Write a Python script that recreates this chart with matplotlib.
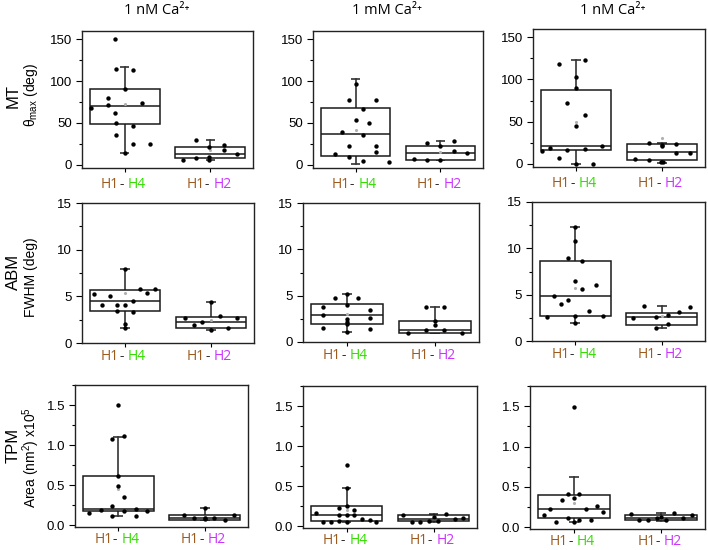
import matplotlib
matplotlib.use('Agg')
import matplotlib.pyplot as plt
from matplotlib.ticker import MultipleLocator, FixedLocator
import matplotlib.transforms as mtransforms

plt.rcParams['font.family'] = ['Liberation Sans', 'DejaVu Sans']
plt.rcParams['mathtext.fontset'] = 'custom'
plt.rcParams['mathtext.rm'] = 'Liberation Sans'
plt.rcParams['mathtext.it'] = 'Liberation Sans:italic'

# ================= column titles / row labels =======================
col_titles = ['1 nM Ca²⁺', '1 mM Ca²⁺', '1 nM Ca²⁺']
row_names = ['MT', 'ABM', 'TPM']
row_units = [r'θ$_{\mathrm{max}}$ (deg)', 'FWHM (deg)', r'Area (nm$^2$) x10$^5$']
row_ylim = [(-4, 160), (0, 15), (-0.02, 1.75)]
row_major = [50, 5, 0.5]
row_fmt = ['{:.0f}', '{:.0f}', '{:.1f}']

# ================= MT (theta max) =======================
# box stats: whislo, q1, median, q3, whishi
mt_h4_box = [[14, 49, 70, 91, 117], [1.2, 10.8, 36.7, 68, 103], [0, 15.7, 20.8, 88, 123]]
mt_h2_box = [[6, 7.4, 13, 21, 30], [5.4, 5.4, 13.5, 22.8, 27.8], [1.2, 4.7, 13.3, 23, 24.3]]
mt_h4_mean = [73, 41.7, 50]
mt_h2_mean = [17.6, 15.5, 30]

mt1_h4_x = [0.89, 0.90, 1.10, 1.0, 0.80, 0.80, 0.60, 1.20, 0.89, 0.90, 1.10, 0.90, 1.10, 1.30, 1.0]
mt1_h4_y = [151, 114, 113, 91, 80, 72, 68, 74, 62, 50, 46, 36, 25, 25, 14]
mt1_h2_x = [1.835, 1.99, 2.16, 2.16, 2.31, 1.68, 1.835, 1.99, 1.99]
mt1_h2_y = [30, 21, 23, 17, 13, 5, 8, 8.6, 6]

mt2_h4_x = [1.0, 0.92, 1.24, 1.09, 1.0, 1.16, 0.84, 1.09, 0.92, 1.24, 1.24, 0.76, 0.92, 1.09, 1.40]
mt2_h4_y = [97, 77, 77, 67, 53, 49.5, 39, 35.6, 22.4, 22.4, 14.7, 13, 9.3, 3.9, 2.7]
mt2_h2_x = [1.84, 2.0, 2.16, 2.16, 2.31, 1.69, 1.84, 2.0]
mt2_h2_y = [26.3, 22, 28, 15.8, 13.5, 6.2, 5, 5.4]

mt3_h4_x = [0.80, 1.10, 1.0, 1.0, 0.90, 1.10, 1.0, 0.70, 0.60, 0.90, 1.10, 1.305, 0.80, 1.0, 1.20]
mt3_h4_y = [118, 123, 103, 89.7, 72, 57.6, 45, 18.8, 15.3, 15.7, 17.6, 20.8, 7, 0, 0]
mt3_h2_x = [1.85, 2.0, 2.0, 2.16, 2.16, 2.32, 1.69, 1.85, 1.99, 2.01]
mt3_h2_y = [24.7, 20.4, 22.7, 23, 13, 13, 5, 4.3, 2, 2]

# ================= ABM (FWHM) =======================
abm_h4_box = [[1.64, 3.42, 4.45, 5.7, 7.94], [1.09, 1.92, 2.86, 4.06, 5.2], [1.93, 2.69, 4.9, 8.58, 12.25]]
abm_h2_box = [[1.35, 1.57, 2.24, 2.74, 4.35], [0.94, 0.94, 1.34, 2.25, 3.8], [1.38, 1.78, 2.58, 3.05, 3.82]]
abm_h4_mean = [5.34, 3.04, 5.75]
abm_h2_mean = [2.5, 1.85, 2.69]

abm1_h4_x = [0.64, 0.82, 1.175, 1.26, 1.35, 0.73, 0.91, 1.0, 1.09, 0.91, 1.09, 1.0, 1.0, 1.0]
abm1_h4_y = [5.24, 5.06, 5.74, 5.38, 5.74, 4.03, 4.03, 4.03, 4.45, 3.46, 3.35, 2.07, 1.64, 7.94]
abm1_h2_x = [1.70, 1.80, 1.90, 2.10, 2.30, 2.0, 2.20, 2.0]
abm1_h2_y = [2.7, 1.92, 2.3, 2.88, 2.7, 1.39, 1.6, 4.35]

abm2_h4_x = [0.86, 1.13, 1.0, 0.73, 1.0, 1.26, 0.73, 1.26, 1.0, 1.0, 1.0, 0.73, 1.26, 1.0]
abm2_h4_y = [4.8, 4.75, 5.2, 3.8, 3.95, 3.5, 2.86, 2.64, 2.5, 2.2, 1.92, 1.56, 1.45, 1.09]
abm2_h2_x = [1.90, 2.10, 2.0, 2.0, 1.90, 2.10, 1.69, 2.31]
abm2_h2_y = [3.8, 3.73, 2.28, 1.85, 1.27, 1.3, 0.94, 0.94]

abm3_h4_x = [1.0, 1.0, 0.92, 1.08, 1.0, 1.24, 1.08, 0.755, 0.92, 0.84, 1.16, 0.67, 1.0, 1.32, 1.0]
abm3_h4_y = [12.25, 10.8, 8.95, 8.6, 6.47, 6.07, 5.6, 4.87, 4.4, 3.96, 3.24, 2.55, 2.73, 2.69, 1.93]
abm3_h2_x = [1.79, 2.33, 2.20, 2.07, 1.67, 1.93, 2.07, 1.93]
abm3_h2_y = [3.82, 3.64, 3.09, 2.8, 2.51, 2.58, 1.82, 1.38]

# ================= TPM (Area) =======================
tpm_h4_box = [[0.114, 0.185, 0.21, 0.611, 1.108], [0.054, 0.07, 0.136, 0.26, 0.483], [0.069, 0.114, 0.232, 0.407, 0.618]]
tpm_h2_box = [[0.072, 0.072, 0.097, 0.135, 0.22], [0.05, 0.07, 0.09, 0.136, 0.157], [0.085, 0.089, 0.118, 0.15, 0.179]]
tpm_h4_mean = [0.455, 0.2, 0.3]
tpm_h2_mean = [0.11, 0.1, 0.12]

tpm1_h4_x = [1.0, 1.066, 0.93, 1.0, 1.0, 1.066, 0.93, 0.66, 0.795, 1.066, 1.20, 1.33, 0.93, 1.20]
tpm1_h4_y = [1.5, 1.11, 1.075, 0.611, 0.497, 0.35, 0.236, 0.16, 0.19, 0.185, 0.206, 0.18, 0.114, 0.118]
tpm1_h2_x = [1.76, 2.0, 1.87, 2.0, 2.11, 2.23, 2.34, 2.0]
tpm1_h2_y = [0.135, 0.22, 0.097, 0.097, 0.097, 0.065, 0.135, 0.075]

tpm2_h4_x = [1.0, 1.0, 1.0, 0.91, 1.09, 0.65, 0.91, 1.09, 1.0, 1.18, 1.27, 1.34, 0.73, 0.82, 0.91, 1.0]
tpm2_h4_y = [0.76, 0.483, 0.26, 0.235, 0.2, 0.17, 0.136, 0.136, 0.136, 0.095, 0.078, 0.054, 0.058, 0.058, 0.066, 0.058]
tpm2_h2_x = [1.65, 2.14, 2.0, 1.75, 1.85, 1.95, 2.05, 2.25, 2.34]
tpm2_h2_y = [0.136, 0.157, 0.116, 0.05, 0.058, 0.062, 0.062, 0.09, 0.11]

tpm3_h4_x = [1.0, 0.935, 1.065, 0.865, 1.0, 0.73, 1.135, 1.27, 0.665, 1.335, 0.935, 1.065, 1.20, 0.80, 1.0]
tpm3_h4_y = [1.49, 0.419, 0.41, 0.337, 0.358, 0.232, 0.228, 0.26, 0.159, 0.195, 0.122, 0.089, 0.089, 0.069, 0.069]
tpm3_h2_x = [1.65, 2.15, 2.0, 1.75, 1.85, 1.95, 2.05, 2.25, 2.35]
tpm3_h2_y = [0.17, 0.175, 0.13, 0.089, 0.097, 0.11, 0.089, 0.12, 0.15]

group_pos = [1, 2]
group_names = [('H1', 'H4'), ('H1', 'H2')]
c_h1 = '#9C5A1E'
c_h4 = '#33DD00'
c_h2 = '#CC33FF'

boxes = [(mt_h4_box, mt_h2_box, mt_h4_mean, mt_h2_mean),
         (abm_h4_box, abm_h2_box, abm_h4_mean, abm_h2_mean),
         (tpm_h4_box, tpm_h2_box, tpm_h4_mean, tpm_h2_mean)]
points = [[(mt1_h4_x, mt1_h4_y, mt1_h2_x, mt1_h2_y), (mt2_h4_x, mt2_h4_y, mt2_h2_x, mt2_h2_y), (mt3_h4_x, mt3_h4_y, mt3_h2_x, mt3_h2_y)],
          [(abm1_h4_x, abm1_h4_y, abm1_h2_x, abm1_h2_y), (abm2_h4_x, abm2_h4_y, abm2_h2_x, abm2_h2_y), (abm3_h4_x, abm3_h4_y, abm3_h2_x, abm3_h2_y)],
          [(tpm1_h4_x, tpm1_h4_y, tpm1_h2_x, tpm1_h2_y), (tpm2_h4_x, tpm2_h4_y, tpm2_h2_x, tpm2_h2_y), (tpm3_h4_x, tpm3_h4_y, tpm3_h2_x, tpm3_h2_y)]]

# axes rectangles in pixels: (left, top, right, bottom)
W, H = 708, 550
rects = [[(82, 31, 253, 168), (313, 31, 483, 168), (533, 29, 705, 167)],
         [(82, 203, 254, 343), (303, 203, 479, 342), (532, 202, 705, 341)],
         [(75, 385, 248, 527), (303, 386, 477, 528), (530, 386, 705, 529)]]
label_drop = [12, 10, 9]  # points below axis for group labels

fig = plt.figure(figsize=(W / 100, H / 100), dpi=100)
edge = '#1a1a1a'

for r in range(3):
    h4_box, h2_box, h4_mean, h2_mean = boxes[r]
    for c in range(3):
        x1, y1, x2, y2 = rects[r][c]
        ax = fig.add_axes([x1 / W, 1 - y2 / H, (x2 - x1) / W, (y2 - y1) / H])
        stats = []
        for b, m in ((h4_box[c], h4_mean[c]), (h2_box[c], h2_mean[c])):
            stats.append(dict(whislo=b[0], q1=b[1], med=b[2], q3=b[3], whishi=b[4], mean=m, fliers=[]))
        # whiskers behind the box
        for pos, s in zip(group_pos, stats):
            ax.plot([pos, pos], [s['whislo'], s['whishi']], color='#333333', lw=1.2, zorder=1)
            ax.hlines([s['whislo'], s['whishi']], pos - 0.055, pos + 0.055, color='#333333', lw=1.2, zorder=1)
        ax.bxp(stats, positions=group_pos, widths=0.82, patch_artist=True, showcaps=False,
               showmeans=False, manage_ticks=False,
               boxprops=dict(facecolor='white', edgecolor=edge, linewidth=1.1, zorder=2),
               medianprops=dict(color=edge, linewidth=1.1, zorder=3),
               whiskerprops=dict(linewidth=0))
        ax.scatter(group_pos, [s['mean'] for s in stats], s=5, color='#b0b0b0', zorder=4, linewidths=0)
        hx, hy, px, py = points[r][c]
        ax.scatter(hx, hy, s=10, color='black', zorder=5, linewidths=0)
        ax.scatter(px, py, s=10, color='black', zorder=5, linewidths=0)

        ax.set_xlim(0.5, 2.5)
        ax.set_ylim(row_ylim[r])
        ax.yaxis.set_major_locator(MultipleLocator(row_major[r]))
        ax.yaxis.set_minor_locator(MultipleLocator(row_major[r] / 2))
        ax.yaxis.set_major_formatter(plt.FuncFormatter(lambda v, p, f=row_fmt[r]: f.format(v)))
        ax.xaxis.set_major_locator(FixedLocator(group_pos))
        ax.set_xticklabels([])
        ax.tick_params(axis='y', which='major', direction='out', length=4, width=0.8, labelsize=9.5, pad=3)
        ax.tick_params(axis='y', which='minor', direction='out', length=2, width=0.8)
        ax.tick_params(axis='x', which='major', direction='out', length=3, width=0.8)
        for sp in ax.spines.values():
            sp.set_linewidth(1.0)
            sp.set_color('#222222')

        # coloured group labels under the axis
        trans = mtransforms.blended_transform_factory(ax.transData, ax.transAxes)
        for pos, (a, b) in zip(group_pos, group_names):
            dash = ax.annotate('-', xy=(pos - 0.04, 0), xycoords=trans, xytext=(0, -label_drop[r]),
                               textcoords='offset points', ha='center', va='center',
                               fontsize=10, color='#333333', family='Open Sans')
            ax.annotate(a, xy=(0, 0), xycoords=dash, ha='right', va='bottom',
                        fontsize=10, color=c_h1, family='Open Sans')
            ax.annotate(b, xy=(1, 0), xycoords=dash, xytext=(3, 0), textcoords='offset points',
                        ha='left', va='bottom', fontsize=10,
                        color=c_h4 if b == 'H4' else c_h2, family='Open Sans')

# column titles
for x, t in zip([157, 387, 613], col_titles):
    fig.text(x / W, 1 - 11 / H, t, ha='center', va='center', fontsize=10.5,
             family=['Open Sans', 'DejaVu Sans'])

# row labels
for (ny, uy), name, unit in zip([(96, 95), (272, 277), (445, 457)], row_names, row_units):
    fig.text(13 / W, 1 - ny / H, name, rotation=90, ha='center', va='center', fontsize=12)
    fig.text(31 / W, 1 - uy / H, unit, rotation=90, ha='center', va='center', fontsize=10)

fig.savefig('out.png', dpi=100)
